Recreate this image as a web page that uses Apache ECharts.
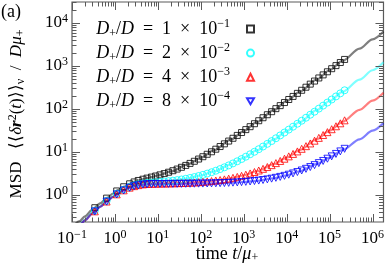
<!DOCTYPE html>
<html><head><meta charset="utf-8">
<script src="https://cdn.jsdelivr.net/npm/echarts@6/dist/echarts.min.js"></script>
<style>html,body{margin:0;padding:0;background:#fff}#c{width:387px;height:267px}</style>
</head><body><div id="c"></div>
<script>
// ---- data ----
const times = [0.34, 0.64, 1.1, 1.6, 2.2, 2.8, 3.5, 4.5, 5.6, 7.1, 8.9,
  11.2, 14.1, 17.8, 22.4, 28.2, 35.5, 44.7, 56.2, 70.8, 89.1,
  112, 141, 178, 224, 282, 355, 447, 562, 708, 891,
  1120, 1410, 1780, 2240, 2820, 3550, 4470, 5620, 7080, 8910,
  11200, 14100, 17800, 22400, 28200, 35500, 44700, 56200, 70800, 89100,
  112000, 141000, 178000, 224000];
const msdBlack = [0.506, 0.845, 1.242, 1.554, 1.821, 2.012, 2.175, 2.329, 2.468, 2.609, 2.762,
  2.938, 3.143, 3.385, 3.671, 4.008, 4.406, 4.876, 5.431, 6.085, 6.858,
  7.77, 8.847, 10.12, 11.62, 13.39, 15.48, 17.94, 20.85, 24.29, 28.35,
  33.13, 38.78, 45.45, 53.32, 62.61, 73.58, 86.52, 101.8, 119.8, 141.1,
  166.2, 195.9, 230.9, 272.2, 320.9, 378.5, 446.4, 526.6, 621.2, 732.9,
  864.8, 1020, 1204, 1421];
const msdCyan = [0.432, 0.728, 1.069, 1.327, 1.536, 1.671, 1.773, 1.855, 1.908, 1.948, 1.982,
  2.017, 2.056, 2.102, 2.156, 2.221, 2.296, 2.386, 2.492, 2.616, 2.764,
  2.938, 3.143, 3.385, 3.671, 4.008, 4.406, 4.876, 5.431, 6.085, 6.858,
  7.77, 8.847, 10.12, 11.62, 13.39, 15.48, 17.94, 20.85, 24.29, 28.35,
  33.13, 38.78, 45.45, 53.32, 62.61, 73.58, 86.52, 101.8, 119.8, 141.1,
  166.2, 195.9, 230.9, 272.2];
const msdRed = [0.417, 0.705, 1.036, 1.284, 1.482, 1.607, 1.696, 1.765, 1.80, 1.822, 1.834,
  1.842, 1.85, 1.859, 1.87, 1.882, 1.897, 1.914, 1.935, 1.959, 1.988,
  2.022, 2.062, 2.109, 2.165, 2.23, 2.308, 2.40, 2.508, 2.636, 2.786,
  2.964, 3.174, 3.422, 3.714, 4.059, 4.467, 4.948, 5.515, 6.185, 6.976,
  7.909, 9.011, 10.31, 11.85, 13.66, 15.8, 18.32, 21.3, 24.81, 28.96,
  33.86, 39.64, 46.47, 54.52];
const msdBlue = [0.415, 0.701, 1.03, 1.276, 1.472, 1.594, 1.682, 1.747, 1.781, 1.798, 1.805,
  1.808, 1.81, 1.811, 1.813, 1.816, 1.818, 1.822, 1.826, 1.83, 1.836,
  1.842, 1.85, 1.859, 1.87, 1.882, 1.897, 1.914, 1.935, 1.959, 1.988,
  2.022, 2.062, 2.109, 2.165, 2.23, 2.308, 2.40, 2.508, 2.636, 2.786,
  2.964, 3.174, 3.422, 3.714, 4.059, 4.467, 4.948, 5.515, 6.185, 6.976,
  7.909, 9.011, 10.31, 11.85];

const lineTimes = [0.1, 0.15, 0.2, 0.3, 0.45, 0.65, 0.9, 1.2, 1.6, 2.2, 3, 4, 5.5, 7.5, 10,
  20, 50, 100, 200, 500, 1000, 2000, 5000, 1e4, 2e4, 5e4, 1e5, 2e5, 5e5, 1e6, 1.8e6];
const fitBlack = [0.171, 0.247, 0.319, 0.455, 0.639, 0.854, 1.084, 1.312, 1.554, 1.821, 2.061, 2.258, 2.455, 2.645, 2.846,
  3.525, 5.136, 7.295, 10.85, 19.31, 30.64, 49.3, 93.7, 153.2, 251.1, 484, 796, 1310, 2533, 4171, 6369];
const fitCyan = [0.1405, 0.2057, 0.2686, 0.387, 0.548, 0.736, 0.934, 1.128, 1.327, 1.536, 1.705, 1.82, 1.904, 1.956, 1.999,
  2.129, 2.436, 2.847, 3.525, 5.136, 7.295, 10.85, 19.31, 30.64, 49.3, 93.7, 153.2, 251.1, 484, 796, 1215];
const fitRed = [0.1347, 0.198, 0.259, 0.374, 0.531, 0.713, 0.906, 1.093, 1.284, 1.482, 1.637, 1.737, 1.799, 1.826, 1.838,
  1.864, 1.924, 2.004, 2.136, 2.451, 2.871, 3.565, 5.214, 7.425, 11.06, 19.71, 31.31, 50.39, 95.83, 156.7, 238.3];
const fitBlue = [0.1336, 0.1964, 0.2571, 0.3716, 0.5278, 0.709, 0.9, 1.087, 1.276, 1.472, 1.624, 1.721, 1.779, 1.80, 1.806,
  1.812, 1.824, 1.839, 1.864, 1.924, 2.004, 2.136, 2.451, 2.872, 3.565, 5.214, 7.423, 11.06, 19.72, 31.31, 46.87];

const legendMantissa = ['1', '2', '4', '8'];
const legendExponent = ['−1', '−2', '−3', '−4'];
const xMajorTicks = [0.1, 1, 10, 100, 1e3, 1e4, 1e5, 1e6];
const yMajorTicks = [0.1, 1, 10, 100, 1e3, 1e4];
const minorMultipliers = [2, 3, 4, 5, 6, 7, 8, 9];

// ---- layout / style ----
const X_MIN = 0.1, X_MAX = 1.803e6, Y_MIN = 0.2355, Y_MAX = 30760;
const SERIF = '"Liberation Serif", "Times New Roman", serif';
const AX = '#5a5a5a';
const MAJ = 8, MIN = 4.5;

function ticks(majors, lo, hi) {
  const out = [];
  majors.forEach(m => {
    if (m >= lo && m <= hi) out.push([m, MAJ]);
    minorMultipliers.forEach(k => { const v = m * k; if (v >= lo && v <= hi) out.push([v, MIN]); });
  });
  return out;
}
const xTickData = ticks(xMajorTicks, X_MIN, X_MAX);
const yTickData = ticks(yMajorTicks, Y_MIN, Y_MAX).map(t => [1, t[0], t[1]]);

function powLabel(v) {
  const l = Math.log10(v), n = Math.round(l);
  if (Math.abs(l - n) > 1e-6) return '';
  return '{b|10}{s|' + (n < 0 ? '−' + (-n) : n) + '}';
}
const labelRich = {
  b: { fontSize: 17, fontFamily: SERIF, color: '#000', lineHeight: 20 },
  s: { fontSize: 12, fontFamily: SERIF, color: '#000', lineHeight: 12, verticalAlign: 'top' }
};

const pts = (xs, ys) => xs.map((x, i) => [x, ys[i]]);
const names = legendMantissa.map((m, i) => 'D+/D = ' + m + ' × 10^' + legendExponent[i]);
const richName = {};
legendMantissa.forEach((m, i) => {
  richName[names[i]] = '{i|D}{sub|+}{n|/}{i|D}{n|  =  ' + m + '  ×  10}{sup|' + legendExponent[i] + '}';
});

const markerDefs = [
  { ys: msdBlack, color: '#000000', symbol: 'rect', size: 6 },
  { ys: msdCyan, color: '#00ffff', symbol: 'circle', size: 7 },
  { ys: msdRed, color: '#ff0000', symbol: 'triangle', size: 7 },
  { ys: msdBlue, color: '#0000ff', symbol: 'path://M0,0L2,0L1,1.732Z', size: 7 }
];
const fitDefs = [
  { ys: fitBlack, color: '#000000' },
  { ys: fitCyan, color: '#00ffff' },
  { ys: fitRed, color: '#ff0000' },
  { ys: fitBlue, color: '#0000ff' }
];

const series = [];
fitDefs.forEach((f, i) => series.push({
  type: 'line', name: 'fit' + i, data: pts(lineTimes, f.ys), showSymbol: false,
  smooth: 0.3, smoothMonotone: 'x', silent: true, z: 2,
  lineStyle: { width: 2.2, color: f.color, opacity: 0.5 }
}));
markerDefs.forEach((m, i) => series.push({
  type: 'scatter', name: names[i], data: pts(times, m.ys), symbol: m.symbol, symbolSize: m.size,
  z: 3 + i, itemStyle: { color: 'rgba(0,0,0,0)', borderColor: m.color, borderWidth: 1 }
}));
series.push({
  type: 'custom', data: xTickData, clip: false, silent: true, z: 10,
  renderItem: function (params, api) {
    const cs = params.coordSys;
    const x = Math.round(api.coord([api.value(0), 1])[0]) + 0.5;
    const len = api.value(1);
    const st = { stroke: AX, lineWidth: 1 };
    return { type: 'group', children: [
      { type: 'line', shape: { x1: x, y1: cs.y + cs.height, x2: x, y2: cs.y + cs.height - len }, style: st },
      { type: 'line', shape: { x1: x, y1: cs.y, x2: x, y2: cs.y + len }, style: st }
    ] };
  }
});
series.push({
  type: 'custom', data: yTickData, clip: false, silent: true, z: 10,
  renderItem: function (params, api) {
    const cs = params.coordSys;
    const y = Math.round(api.coord([1, api.value(1)])[1]) + 0.5;
    const len = api.value(2);
    const st = { stroke: AX, lineWidth: 1 };
    return { type: 'group', children: [
      { type: 'line', shape: { x1: cs.x, y1: y, x2: cs.x + len, y2: y }, style: st },
      { type: 'line', shape: { x1: cs.x + cs.width, y1: y, x2: cs.x + cs.width - len, y2: y }, style: st }
    ] };
  }
});

const chart = echarts.init(document.getElementById('c'), null, { renderer: 'canvas' });
chart.setOption({
  animation: false,
  backgroundColor: '#fff',
  grid: { left: 72, right: 3, top: 2, bottom: 45, show: true, borderColor: AX, borderWidth: 1.2 },
  xAxis: {
    type: 'log', logBase: 10, min: X_MIN, max: X_MAX, interval: 1, splitNumber: 8,
    axisLine: { show: false }, axisTick: { show: false }, splitLine: { show: false },
    axisLabel: { formatter: powLabel, rich: labelRich, margin: 7, interval: 0, hideOverlap: false }
  },
  yAxis: {
    type: 'log', logBase: 10, min: Y_MIN, max: Y_MAX, splitNumber: 5,
    axisLine: { show: false }, axisTick: { show: false }, splitLine: { show: false },
    axisLabel: { formatter: powLabel, rich: labelRich, margin: 4, interval: 0, hideOverlap: false }
  },
  legend: {
    data: names, orient: 'vertical', align: 'right', right: 127, top: 13,
    itemWidth: 7, itemHeight: 7, itemGap: 2.1, selectedMode: false,
    formatter: n => richName[n],
    textStyle: {
      color: '#000', fontFamily: SERIF,
      rich: {
        i: { fontSize: 18, fontStyle: 'italic', fontFamily: SERIF, lineHeight: 22, color: '#000' },
        n: { fontSize: 18, fontFamily: SERIF, lineHeight: 22, color: '#000' },
        sub: { fontSize: 12, fontFamily: SERIF, lineHeight: 12, verticalAlign: 'bottom', color: '#000' },
        sup: { fontSize: 12, fontFamily: SERIF, lineHeight: 12, verticalAlign: 'top', color: '#000', padding: [0, 12, 0, 0] }
      }
    }
  },
  graphic: [
    { type: 'text', x: 11, y: 12, style: { text: '(a)', font: '18px ' + SERIF, fill: '#000', align: 'center', verticalAlign: 'middle' } },
    { type: 'text', x: 227, y: 254, style: {
      text: '{r|time }{i|t}{r|/}{i|μ}{sub|+}', align: 'center', verticalAlign: 'middle', fill: '#000',
      rich: {
        r: { fontSize: 18, fontFamily: SERIF, lineHeight: 20 },
        i: { fontSize: 18, fontFamily: SERIF, fontStyle: 'italic', lineHeight: 20 },
        sub: { fontSize: 12, fontFamily: SERIF, lineHeight: 12, verticalAlign: 'bottom' }
      } } },
    { type: 'text', x: 17, y: 114, rotation: Math.PI / 2, style: {
      text: '{r|MSD   }{m|⟨⟨}{i|δ}{b|r}{sup|2}{m|(}{i|t}{m|)⟩⟩}{sub|ν}{m|  /  }{i|Dμ}{sub|+}',
      align: 'center', verticalAlign: 'middle', fill: '#000',
      rich: {
        r: { fontSize: 17, fontFamily: SERIF, lineHeight: 20 },
        m: { fontSize: 17, fontFamily: SERIF, lineHeight: 20 },
        i: { fontSize: 17, fontFamily: SERIF, fontStyle: 'italic', lineHeight: 20 },
        b: { fontSize: 17, fontFamily: SERIF, fontStyle: 'italic', fontWeight: 'bold', lineHeight: 20 },
        sup: { fontSize: 12, fontFamily: SERIF, lineHeight: 12, verticalAlign: 'top' },
        sub: { fontSize: 12, fontFamily: SERIF, lineHeight: 12, verticalAlign: 'bottom' }
      } } }
  ],
  series: series
});
</script></body></html>
